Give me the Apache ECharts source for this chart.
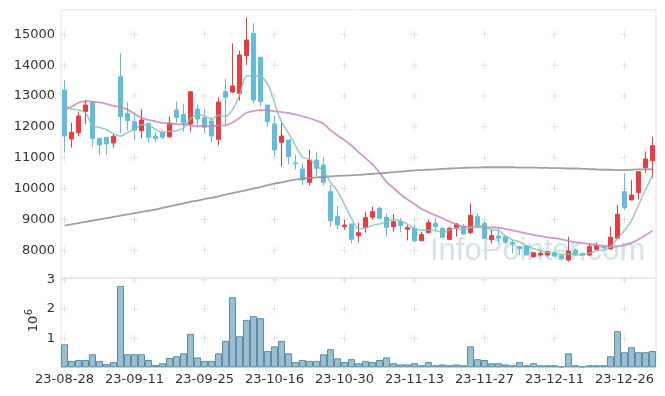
<!DOCTYPE html>
<html><head><meta charset="utf-8">
<script src="https://cdn.jsdelivr.net/npm/echarts@6/dist/echarts.min.js"></script>
<style>html,body{margin:0;padding:0;background:#fff}#c{width:665px;height:396px}</style>
</head><body><div id="c"></div>
<script>
const dates = ['23-08-28','23-08-29','23-08-30','23-08-31','23-09-01','23-09-04','23-09-05','23-09-06','23-09-07','23-09-08',
'23-09-11','23-09-12','23-09-13','23-09-14','23-09-15','23-09-18','23-09-19','23-09-20','23-09-21','23-09-22',
'23-09-25','23-09-26','23-09-27','23-10-04','23-10-05','23-10-06','23-10-10','23-10-11','23-10-12','23-10-13',
'23-10-16','23-10-17','23-10-18','23-10-19','23-10-20','23-10-23','23-10-24','23-10-25','23-10-26','23-10-27',
'23-10-30','23-10-31','23-11-01','23-11-02','23-11-03','23-11-06','23-11-07','23-11-08','23-11-09','23-11-10',
'23-11-13','23-11-14','23-11-15','23-11-16','23-11-17','23-11-20','23-11-21','23-11-22','23-11-23','23-11-24',
'23-11-27','23-11-28','23-11-29','23-11-30','23-12-01','23-12-04','23-12-05','23-12-06','23-12-07','23-12-08',
'23-12-11','23-12-12','23-12-13','23-12-14','23-12-15','23-12-18','23-12-19','23-12-20','23-12-21','23-12-22',
'23-12-26','23-12-27','23-12-28','24-01-02','24-01-03'];

const open = [13195,11606,11810,12492,12783,11630,11661,11477,13626,12439,
12167,11876,12115,11700,11810,11681,12546,12406,12093,12578,
12297,12190,11597,13140,13130,13087,14307,15032,14254,12708,
12093,11500,11574,10830,10634,10202,10926,10764,9898,9088,
8764,8851,8473,8732,9070,9359,9066,8764,8926,8680,
8711,8310,8570,8872,8711,8354,8711,8786,8570,9088,
8872,8343,8462,8440,8258,8115,8138,7791,7846,7846,
7921,7824,7684,8008,7900,7846,8030,8100,8040,8387,
9898,9629,9866,10676,10903];
const close = [11705,11823,12352,12708,11616,11412,11445,11693,12330,12200,
11898,12222,11661,11620,11661,12115,12309,12115,13140,12254,
11985,11704,12806,12958,13324,14330,14815,12870,12816,12167,
11250,11704,11034,10800,10277,10926,10656,10200,8958,8818,
8818,8355,8570,9055,9250,9034,8742,8926,8796,8732,
8310,8505,8894,8764,8418,8711,8850,8527,9131,8818,
8386,8473,8387,8258,8200,8050,7846,7921,7900,7954,
7813,7739,7976,7846,7846,8115,8138,8080,8420,9165,
9380,9790,10546,10958,11389];
const low = [11162,11325,11700,12093,11357,11087,11110,11325,11791,11898,
11574,11630,11486,11500,11600,11648,12135,11843,11843,12017,
11780,11500,11400,12082,13100,12848,14005,12764,12676,12005,
11034,10708,10784,10624,10115,10100,10400,10100,8764,8680,
8660,8224,8250,8570,9000,8990,8440,8600,8580,8320,
8250,8290,8550,8600,8400,8330,8440,8500,8518,8700,
8386,8224,8255,8200,7900,7846,7846,7760,7800,7791,
7780,7662,7630,7800,7820,7820,8000,8050,8030,8360,
9305,9629,9640,10520,10350];
const high = [13517,12135,12500,12870,12850,11630,11661,11770,14384,12800,
12440,12570,12115,11830,11900,12330,12816,12741,13140,12730,
12578,12330,12957,13551,14708,14470,15551,15357,14254,12708,
12352,12147,11574,11110,10820,11250,11190,11000,10115,9435,
8980,8851,8890,9250,9410,9420,9174,9174,9050,8830,
8830,8600,9000,9050,8750,8760,8880,8850,9518,9200,
8960,8670,8740,8460,8332,8138,8160,7921,8010,7960,
7950,7830,8440,8060,7920,8225,8250,8120,8770,9467,
10495,10270,10546,11200,11680];
const volume = [790000,220000,250000,250000,450000,220000,110000,180000,2800000,450000,
450000,450000,250000,80000,140000,320000,380000,480000,1150000,340000,
220000,220000,480000,910000,2410000,1070000,1630000,1760000,1690000,560000,
720000,910000,480000,180000,250000,220000,220000,450000,620000,310000,
180000,280000,140000,220000,180000,250000,340000,140000,100000,100000,
140000,70000,180000,70000,100000,70000,100000,70000,720000,280000,
250000,140000,140000,100000,70000,180000,70000,140000,70000,70000,
70000,30000,480000,70000,30000,70000,70000,70000,380000,1240000,
520000,690000,520000,520000,560000];
const ma5 = [12700,12580,12550,12460,12041,11982,11907,11775,11699,11816,
11913,12069,12062,11920,11812,11856,11873,11964,12268,12387,
12361,12240,12378,12341,12555,13024,13647,13659,13631,13400,
12784,12161,11794,11391,11013,10948,10739,10572,10203,9912,
9490,9030,8704,8723,8810,8853,8930,9001,8950,8846,
8701,8654,8647,8641,8578,8658,8727,8654,8727,8807,
8742,8667,8639,8464,8341,8274,8148,8055,7983,7934,
7887,7865,7876,7866,7844,7904,7984,8005,8120,8384,
8637,8967,9460,9968,10413];
const ma20 = [12546,12650,12780,12830,12816,12790,12740,12680,12640,12560,
12430,12290,12230,12180,12130,12110,12090,12070,12050,12014,
12028,12022,12045,12057,12143,12289,12457,12516,12540,12539,
12506,12480,12449,12408,12339,12279,12197,12101,11892,11720,
11562,11394,11182,10987,10783,10519,10215,10018,9817,9645,
9498,9338,9231,9129,9036,8926,8835,8752,8760,8760,
8739,8745,8735,8696,8643,8594,8549,8499,8454,8415,
8390,8352,8306,8260,8232,8202,8166,8144,8108,8126,
8175,8241,8349,8484,8644];
const ma120 = [8800,8840,8880,8920,8960,9000,9040,9080,9120,9160,
9200,9240,9280,9320,9370,9420,9470,9520,9570,9610,
9660,9700,9750,9800,9850,9900,9950,10000,10050,10110,
10160,10200,10250,10290,10320,10340,10360,10380,10390,10410,
10420,10430,10440,10460,10480,10490,10510,10530,10550,10570,
10590,10600,10610,10620,10640,10650,10660,10670,10680,10680,
10690,10690,10690,10690,10690,10680,10680,10680,10670,10670,
10660,10660,10650,10650,10640,10630,10620,10610,10610,10600,
10600,10610,10620,10620,10630];
const priceTicks = [8000,9000,10000,11000,12000,13000,14000,15000];
const volTicks = [1000000,2000000,3000000];
const labelEvery = 10;

const RED = '#ec3a3e', BLUE = '#62bddb';
const candles = dates.map((d,i)=>[open[i],close[i],low[i],high[i]]);
const labelCats = dates.filter((d,i)=>i%labelEvery===0);
const crossP = [], crossV = [];
labelCats.forEach(c=>{priceTicks.forEach(t=>crossP.push([c,t])); volTicks.forEach(t=>crossV.push([c,t]));});
const plus = 'path://M3,0H4V3H7V4H4V7H3V4H0V3H3Z';
const font = 'DejaVu Sans';

const chart = echarts.init(document.getElementById('c'), null, {renderer:'canvas'});
chart.setOption({
  animation:false,
  graphic:[
    {id:'wm', type:'text', left:430, top:236, z:-10, silent:true,
      style:{text:'InfoPointer.com', fontSize:31, fontFamily:'Liberation Sans', fill:'rgba(150,185,210,0.42)'}},
    {id:'exp10', type:'text', x:34, y:324, rotation:Math.PI/2, silent:true,
      style:{text:'10', align:'center', verticalAlign:'middle', fontSize:13, fontFamily:font, fill:'#333'}},
    {id:'exp6', type:'text', x:29.5, y:312, rotation:Math.PI/2, silent:true,
      style:{text:'6', align:'center', verticalAlign:'middle', fontSize:10, fontFamily:font, fill:'#333'}}
  ],
  grid:[
    {left:61, width:595, top:10, height:268, show:true, borderColor:'#e3e3e3', borderWidth:1},
    {left:61, width:595, top:278, height:89.3, show:true, borderColor:'#e3e3e3', borderWidth:1}
  ],
  xAxis:[
    {type:'category', gridIndex:0, data:dates, boundaryGap:true, axisLine:{show:false}, axisTick:{show:false}, axisLabel:{show:false}, splitLine:{show:false}},
    {type:'category', gridIndex:1, data:dates, boundaryGap:true, axisLine:{show:false}, axisTick:{show:false},
      axisLabel:{interval:labelEvery-1, color:'#333', fontSize:13, fontFamily:font, margin:6}, splitLine:{show:false}}
  ],
  yAxis:[
    {type:'value', gridIndex:0, min:7100, max:15788, axisLine:{show:false}, axisTick:{show:false}, splitLine:{show:false},
      axisLabel:{customValues:priceTicks, formatter:v=>String(v), color:'#333', fontSize:13, fontFamily:font, margin:6}},
    {type:'value', gridIndex:1, min:0, max:3070000, axisLine:{show:false}, axisTick:{show:false}, splitLine:{show:false},
      axisLabel:{show:false}}
  ],
  series:[
    {type:'scatter', xAxisIndex:0, yAxisIndex:0, data:crossP, symbol:plus, symbolSize:7, itemStyle:{color:'#d9d9d9'}, silent:true, z:1},
    {type:'scatter', xAxisIndex:1, yAxisIndex:1, data:crossV, symbol:plus, symbolSize:7, itemStyle:{color:'#d9d9d9'}, silent:true, z:1},
    {type:'candlestick', xAxisIndex:0, yAxisIndex:0, data:candles, barWidth:5,
      itemStyle:{color:RED, color0:BLUE, borderColor:RED, borderColor0:BLUE, borderWidth:1}, z:2},
    {type:'line', xAxisIndex:0, yAxisIndex:0, data:ma120, showSymbol:false, smooth:0.3, lineStyle:{color:'#8f8f8f', width:1.8, opacity:0.85}, z:3},
    {type:'line', xAxisIndex:0, yAxisIndex:0, data:ma20, showSymbol:false, smooth:0.3, lineStyle:{color:'#c47fbb', width:1.8, opacity:0.8}, z:3},
    {type:'line', xAxisIndex:0, yAxisIndex:0, data:ma5, showSymbol:false, smooth:0.3, lineStyle:{color:'#7cc4b0', width:1.6, opacity:0.8}, z:3},
    {type:'bar', xAxisIndex:1, yAxisIndex:1, data:volume, barWidth:'100%', barCategoryGap:0,
      itemStyle:{color:'rgba(122,168,192,0.75)', borderColor:'#5b8ea8', borderWidth:1}, z:2}
  ]
});
// volume tick labels placed through the volume axis scale
const gridRect = chart.getModel().getComponent('grid', 1).coordinateSystem.getRect();
chart.setOption({graphic: volTicks.map((t,k)=>({
  id:'vt'+k, type:'text', z:100, silent:true,
  x: gridRect.x - 6,
  y: chart.convertToPixel({yAxisIndex:1}, t),
  style:{text:String(t/1e6), align:'right', verticalAlign:'middle', fontSize:13, fontFamily:font, fill:'#333'}
}))});
</script></body></html>
